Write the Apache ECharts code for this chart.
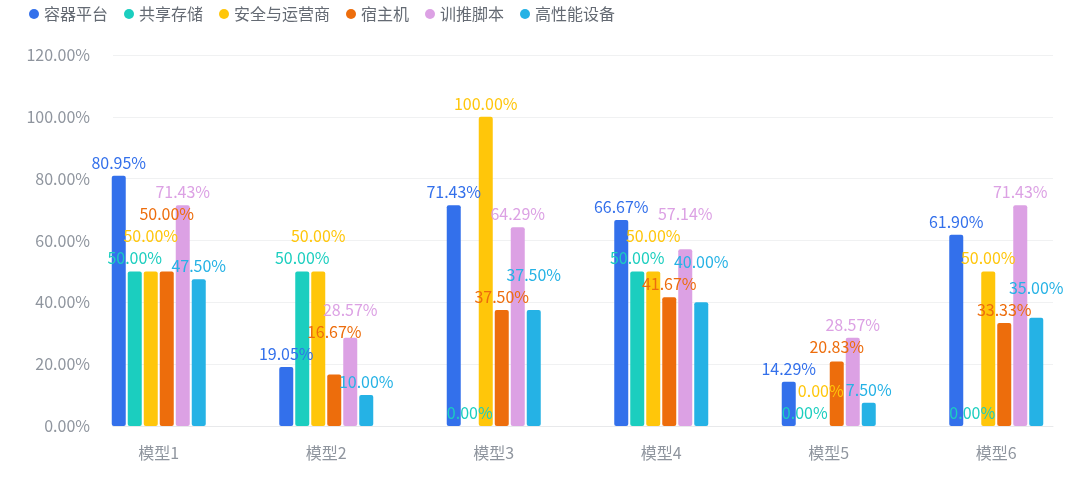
<!DOCTYPE html>
<html>
<head>
<meta charset="utf-8">
<script src="https://cdn.jsdelivr.net/npm/echarts@6/dist/echarts.min.js"></script>
<style>
  html, body { margin: 0; padding: 0; background: #fff; }
  #container { width: 1080px; height: 489px; }
</style>
</head>
<body>
<div id="container"></div>
<script>
var categories = ['模型1', '模型2', '模型3', '模型4', '模型5', '模型6'];
var seriesNames = ['容器平台', '共享存储', '安全与运营商', '宿主机', '训推脚本', '高性能设备'];
var rongqi = [80.95, 19.05, 71.43, 66.67, 14.29, 61.90];
var gongxiang = [50.00, 50.00, 0.00, 50.00, 0.00, 0.00];
var anquan = [50.00, 50.00, 100.00, 50.00, 0.00, 50.00];
var suzhu = [50.00, 16.67, 37.50, 41.67, 20.83, 33.33];
var xuntui = [71.43, 28.57, 64.29, 57.14, 28.57, 71.43];
var gaoxing = [47.50, 10.00, 37.50, 40.00, 7.50, 35.00];
var yTicks = [0, 20, 40, 60, 80, 100, 120];

var colors = ['#3370eb', '#1bcebf', '#ffc60a', '#ed6d0c', '#dca1e4', '#25b2e5'];
var allData = [rongqi, gongxiang, anquan, suzhu, xuntui, gaoxing];
var font = '"Noto Sans CJK SC", "Noto Sans", sans-serif';
var barW = 14, barSpace = 2, labelH = 22;

var dom = document.getElementById('container');
var myChart = echarts.init(dom);

function fmt(v) { return v.toFixed(2) + '%'; }

var series = seriesNames.map(function (name, i) {
    return {
        name: name,
        type: 'bar',
        xAxisIndex: 1,
        yAxisIndex: 1,
        barWidth: barW,
        barGap: (barSpace / barW * 100) + '%',
        data: allData[i],
        itemStyle: { color: colors[i], borderRadius: 2 },
        label: {
            show: true,
            position: 'top',
            distance: 5,
            color: colors[i],
            fontSize: 16,
            fontFamily: font,
            formatter: function (p) { return fmt(p.value); }
        }
    };
});

var option = {
    animation: false,
    color: colors,
    textStyle: { fontFamily: font },
    legend: {
        left: 24,
        top: 1,
        icon: 'circle',
        itemWidth: 10,
        itemHeight: 10,
        itemGap: 16,
        textStyle: { fontSize: 16, color: '#646a73', fontFamily: font },
        data: seriesNames
    },
    grid: [
        // 网格线和 y 轴标签
        { left: 113, right: 27, top: 55, bottom: 63 },
        // 柱子所在区域
        { left: 75, right: -13, top: 55, bottom: 63 }
    ],
    xAxis: [
        {
            type: 'category',
            gridIndex: 0,
            data: [''],
            axisLine: { show: true, lineStyle: { color: '#e8e9eb' } },
            axisTick: { show: false },
            axisLabel: { show: false }
        },
        {
            type: 'category',
            gridIndex: 1,
            data: categories,
            axisLine: { show: false },
            axisTick: { show: false },
            axisLabel: { fontSize: 16, color: '#8f959e', margin: 19, fontFamily: font }
        }
    ],
    yAxis: [
        {
            type: 'value',
            gridIndex: 0,
            min: yTicks[0],
            max: yTicks[yTicks.length - 1],
            interval: yTicks[1] - yTicks[0],
            axisLine: { show: false },
            axisTick: { show: false },
            splitLine: { lineStyle: { color: '#f0f1f2' } },
            axisLabel: {
                fontSize: 16,
                color: '#8f959e',
                margin: 23,
                fontFamily: font,
                formatter: function (v) { return fmt(v); }
            }
        },
        {
            type: 'value',
            gridIndex: 1,
            min: yTicks[0],
            max: yTicks[yTicks.length - 1],
            show: false
        }
    ],
    series: series
};

myChart.setOption(option, true);

// 标签重叠时往上挪
var ctx = document.createElement('canvas').getContext('2d');
ctx.font = '16px ' + font;
var shifts = seriesNames.map(function () { return []; });
categories.forEach(function (c, ci) {
    var placed = [];
    allData.forEach(function (arr, si) {
        var v = arr[ci];
        var pt = myChart.convertToPixel({ gridIndex: 1 }, [ci, v]);
        var cx = pt[0] + (si - 2.5) * (barW + barSpace);
        var w = ctx.measureText(fmt(v)).width;
        var y0 = pt[1] - 14, y = y0;
        var moved = true;
        while (moved) {
            moved = false;
            for (var k = 0; k < placed.length; k++) {
                var p = placed[k];
                if (Math.abs(p.x - cx) < (p.w + w) / 2 && Math.abs(p.y - y) < labelH - 0.5) {
                    y = p.y - labelH;
                    moved = true;
                }
            }
        }
        placed.push({ x: cx, y: y, w: w });
        shifts[si][ci] = y - y0;
    });
});

myChart.setOption({
    series: shifts.map(function (s) {
        return {
            labelLayout: function (params) {
                return { dy: s[params.dataIndex] };
            }
        };
    })
});
</script>
</body>
</html>
